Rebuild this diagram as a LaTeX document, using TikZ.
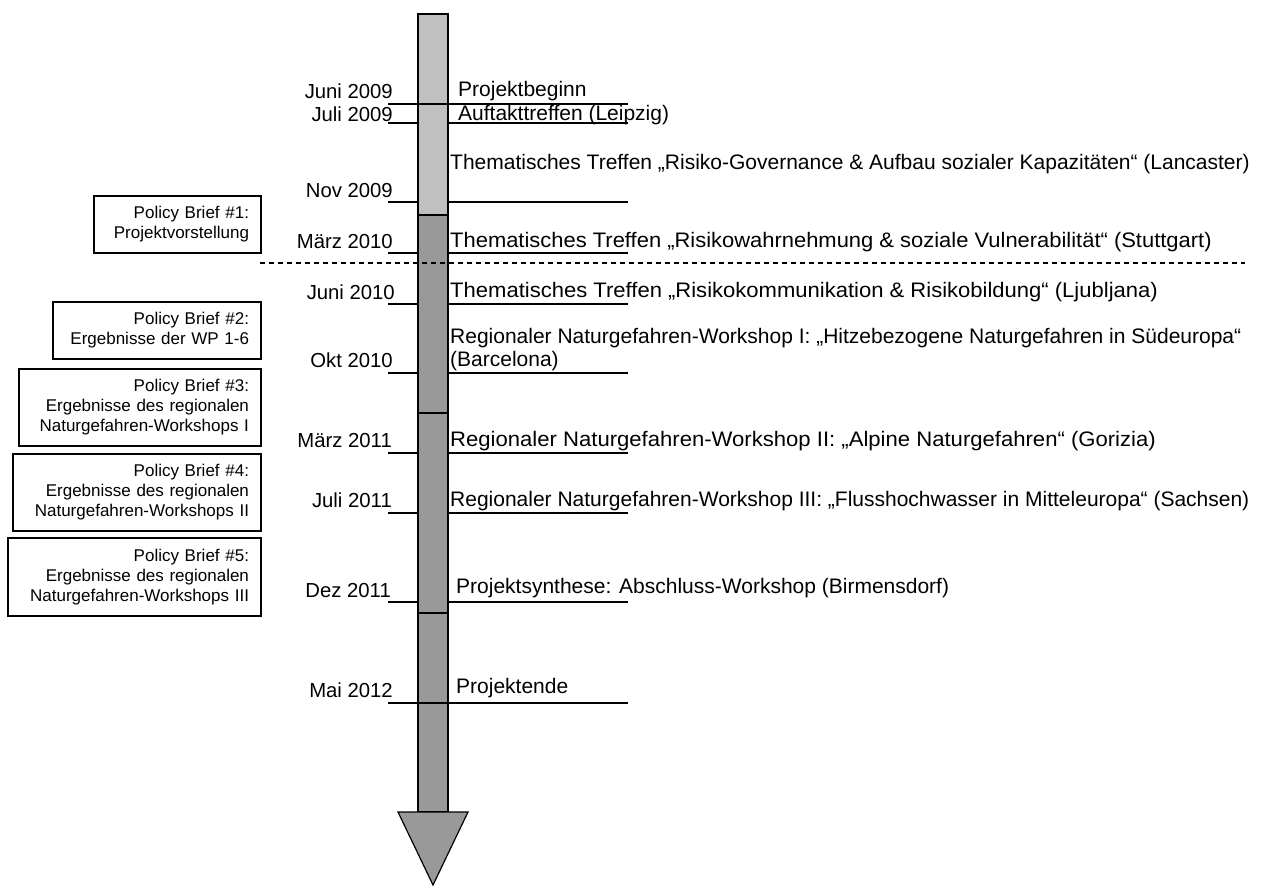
\documentclass[tikz,border=0pt]{standalone}
\usepackage{graphicx}
\usepackage{fontspec}
\setmainfont{Liberation Sans}
\begin{document}
\begin{tikzpicture}[x=1pt,y=-1pt,
  thin line/.style={line width=1.2pt},
  thick line/.style={line width=2.4pt},
  date/.style={anchor=base east,inner sep=0pt,font=\fontsize{20.3}{24}\selectfont},
  event/.style={anchor=base west,inner sep=0pt,align=left,font=\fontsize{21}{23}\selectfont},
  pbox/.style={draw,line width=1.2pt,align=right,inner xsep=12pt,inner ysep=0pt,font=\fontsize{17}{20}\selectfont},
  seg/.style={draw,line width=1.2pt}]
\useasboundingbox (0,0) rectangle (1268,886);
\definecolor{lightbar}{HTML}{C0C0C0}
\definecolor{darkbar}{HTML}{999999}
% bar
\filldraw[seg,fill=lightbar] (418,14) rectangle (448,215);
\filldraw[seg,fill=darkbar] (418,215) rectangle (448,413);
\filldraw[seg,fill=darkbar] (418,413) rectangle (448,613);
\filldraw[seg,fill=darkbar] (418,613) rectangle (448,812);
\filldraw[seg,fill=darkbar,line join=miter] (398,812) -- (468,812) -- (433,885) -- cycle;
% dashed separator
\draw[thin line,dash pattern=on 5pt off 4pt] (260,263) -- (1245,263);
% tick lines
\foreach \y in {123,202,253,304,373,453,513,602}{
  \draw[thin line] (388,\y) -- (418,\y);
  \draw[thin line] (448,\y) -- (628,\y);
}
\draw[thick line] (388,104) -- (628,104);
\draw[thick line] (388,703) -- (628,703);
% dates
\node[date] (d1) at (393,98) {Juni 2009};
\node[date] (d2) at (393,121) {Juli 2009};
\node[date] (d3) at (393,197) {Nov 2009};
\node[date] (d4) at (393,248) {März 2010};
\node[date] (d5) at (395,299) {Juni 2010};
\node[date] (d6) at (393,367) {Okt 2010};
\node[date] (d7) at (392,447) {März 2011};
\node[date] (d8) at (392,507) {Juli 2011};
\node[date] (d9) at (391,597) {Dez 2011};
\node[date] (d10) at (393,697) {Mai 2012};
% events
\node[event] (e1) at (458,96) {Projektbeginn};
\node[event] (e2) at (458,120) {Auftakttreffen (Leipzig)};
\node[event] (e3) at (450,169) {Thematisches Treffen „Risiko-Governance \& Aufbau sozialer Kapazitäten“ (Lancaster)};
\node[event] (e4) at (450,247) {\scalebox{1.045}[1]{Thematisches Treffen „Risikowahrnehmung \& soziale Vulnerabilität“ (Stuttgart)}};
\node[event] (e5) at (450,297) {\scalebox{1.049}[1]{Thematisches Treffen „Risikokommunikation \& Risikobildung“ (Ljubljana)}};
\node[event] (e6) at (450,366) {Regionaler Naturgefahren-Workshop I: „Hitzebezogene Naturgefahren in Südeuropa“\\(Barcelona)};
\node[event] (e7) at (450,446) {\scalebox{1.052}[1]{Regionaler Naturgefahren-Workshop II: „Alpine Naturgefahren“ (Gorizia)}};
\node[event] (e8) at (450,506) {Regionaler Naturgefahren-Workshop III: „Flusshochwasser in Mitteleuropa“ (Sachsen)};
\node[event] (e9) at (456,593) {Projektsynthese: Abschluss-Workshop (Birmensdorf)};
\node[event] (e10) at (456,693) {Projektende};
% policy briefs
\node[pbox,minimum width=167pt,minimum height=57pt,text width=143pt] (p1) at (177.5,224.5) {Policy Brief \#1:\\Projektvorstellung};
\node[pbox,minimum width=208pt,minimum height=57pt,text width=184pt] (p2) at (157,330.5) {Policy Brief \#2:\\Ergebnisse der WP 1-6};
\node[pbox,minimum width=242pt,minimum height=77pt,text width=218pt] (p3) at (140,407.5) {Policy Brief \#3:\\Ergebnisse des regionalen\\Naturgefahren-Workshops I};
\node[pbox,minimum width=248pt,minimum height=77pt,text width=224pt] (p4) at (137,492.5) {Policy Brief \#4:\\Ergebnisse des regionalen\\Naturgefahren-Workshops II};
\node[pbox,minimum width=253pt,minimum height=78pt,text width=229pt] (p5) at (134.5,577) {Policy Brief \#5:\\Ergebnisse des regionalen\\Naturgefahren-Workshops III};
\end{tikzpicture}
\end{document}
